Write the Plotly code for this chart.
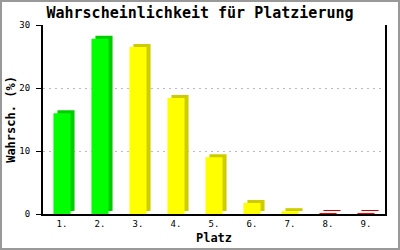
import plotly.graph_objects as go

categories = ["1.", "2.", "3.", "4.", "5.", "6.", "7.", "8.", "9."]
values = [16.0, 27.8, 26.5, 18.4, 9.0, 1.75, 0.45, 0.1, 0.1]
front_colors = ["#00FF00", "#00FF00", "#FFFF00", "#FFFF00", "#FFFF00", "#FFFF00", "#FFFF00", "#FF0000", "#FF0000"]
side_colors = ["#00CC00", "#00CC00", "#CCCC00", "#CCCC00", "#CCCC00", "#CCCC00", "#CCCC00", "#CC0000", "#CC0000"]
y_ticks = [0, 10, 20, 30]

W, H = 400, 250
ML, MR, MT, MB = 43, 15, 25, 36
pw, ph = W - ML - MR, H - MT - MB
n = len(categories)
bw = 0.45
dx = 4 * n / pw          # depth offset in category units (4 px)
dy = 3 * 30 / ph         # depth offset in y units (3 px)

fig = go.Figure()
fig.add_trace(go.Bar(x=categories, y=values, base=[dy] * n, width=bw, offset=-bw / 2 + dx,
                     marker=dict(color=side_colors, line=dict(width=0)), hoverinfo="skip"))
fig.add_trace(go.Bar(x=categories, y=values, width=bw, offset=-bw / 2,
                     marker=dict(color=front_colors, line=dict(width=0))))

mono = "DejaVu Sans Mono"
fig.update_layout(
    width=W, height=H, barmode="overlay", showlegend=False,
    margin=dict(l=ML, r=MR, t=MT, b=MB, autoexpand=False),
    paper_bgcolor="white", plot_bgcolor="white",
    title=dict(text="<b>Wahrscheinlichkeit für Platzierung</b>", x=0.5, xanchor="center",
               y=1 - 13 / H, yanchor="middle",
               font=dict(family=mono, size=15, color="black")),
    xaxis=dict(showline=True, linecolor="black", linewidth=2, showgrid=False, ticks="",
               automargin=False,
               tickfont=dict(family=mono, size=9, color="black"),
               title=dict(text="<b>Platz</b>", font=dict(family=mono, size=12, color="black"), standoff=6),
               range=[-0.5, n - 0.5]),
    yaxis=dict(range=[0, 30], tickvals=y_ticks, showline=True, linecolor="black", linewidth=2,
               automargin=False, ticklabelstandoff=4,
               mirror=True, ticks="outside", ticklen=5, tickcolor="black", tickwidth=1,
               showgrid=True, gridcolor="#BBBBBB", griddash="2px,4px", gridwidth=1, zeroline=False,
               tickfont=dict(family=mono, size=9, color="black"),
               title=dict(text="<b>Wahrsch. (%)</b>", font=dict(family=mono, size=12, color="black"), standoff=1)),
    shapes=[dict(type="rect", xref="paper", yref="paper",
                 x0=(1 - ML) / pw, x1=(W - 1 - ML) / pw,
                 y0=-(MB - 1) / ph, y1=1 + (MT - 1) / ph,
                 line=dict(color="#999999", width=2), layer="below")],
)

fig.write_html("out.html")
